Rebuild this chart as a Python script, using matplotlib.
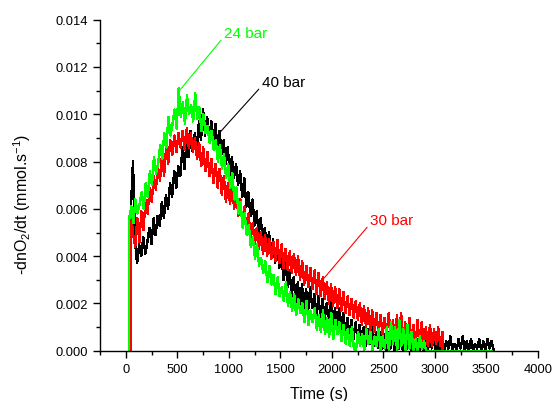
import numpy as np
import matplotlib
matplotlib.use("Agg")
import matplotlib.pyplot as plt

plt.rcParams['font.family'] = ['Liberation Sans', 'DejaVu Sans']
plt.rcParams['mathtext.default'] = 'regular'

# sampling step of the logged traces (s); values below are in 1e-3 mmol/s
STEP = 20

green_start, green_end = 34, 3550   # 24 bar
green_vals = [
    5.6, 6.1, 5.4, 6.4, 5.8, 6.2, 6.7, 6.0, 7.1, 6.5,
    7.6, 7.0, 8.2, 7.5, 7.9, 8.7, 8.1, 9.2, 8.6, 9.9,
    9.1, 9.6, 10.2, 9.4, 11.1, 9.9, 10.5, 9.6, 10.8, 10.0,
    10.4, 9.7, 10.9, 9.8, 10.3, 9.3, 10.0, 9.2, 9.5, 8.8,
    9.3, 8.5, 8.9, 8.0, 8.7, 7.7, 8.3, 7.3, 7.9, 6.9,
    7.5, 6.4, 6.9, 5.8, 6.3, 5.2, 5.8, 4.9, 5.3, 4.4,
    4.8, 3.9, 4.5, 3.6, 3.9, 3.3, 3.8, 2.9, 3.6, 2.8,
    3.2, 2.4, 3.1, 2.3, 2.7, 2.1, 2.9, 1.9, 2.5, 1.7,
    2.4, 1.5, 2.2, 1.6, 2.0, 1.2, 2.1, 1.1, 1.7, 1.2,
    1.8, 0.9, 1.5, 0.8, 1.7, 0.7, 1.4, 0.6, 1.6, 0.5,
    1.3, 0.7, 1.2, 0.4, 1.1, 0.3, 0.9, 0.2, 1.0, 0.1,
    0.0, 0.8, 0.2, 0.7, 0.0, 0.9, 0.3, 0.8, 0.0, 0.6,
    0.2, 0.9, 0.0, 0.6, 0.1, 1.0, 0.0, 1.2, 0.3, 1.0,
    0.0, 1.3, 0.2, 0.9, 0.0, 1.1, 0.1, 0.8, 0.0, 0.5,
    0.0, 0.6, 0.1, 0.4, 0.0,
]

black_start, black_end = 50, 3550   # 40 bar
black_vals = [
    6.0, 8.0, 4.6, 3.7, 4.5, 4.0, 4.8, 4.1, 4.6, 5.2,
    4.5, 5.6, 4.9, 5.7, 5.3, 6.3, 5.6, 6.6, 6.0, 7.1,
    6.5, 7.6, 6.9, 7.8, 7.4, 8.6, 7.7, 8.9, 8.2, 9.3,
    8.4, 9.2, 8.6, 9.7, 8.9, 10.2, 9.1, 9.9, 9.0, 9.7,
    8.9, 9.6, 8.5, 9.3, 8.3, 8.9, 7.9, 8.6, 7.4, 8.2,
    7.3, 7.9, 7.0, 7.6, 6.5, 7.3, 6.1, 6.7, 5.7, 6.4,
    5.3, 5.9, 4.9, 5.6, 4.7, 5.2, 4.3, 5.0, 4.1, 4.7,
    3.7, 4.6, 3.5, 4.3, 3.0, 3.9, 2.7, 3.4, 2.3, 3.1,
    2.0, 2.9, 1.9, 2.8, 1.8, 2.6, 1.7, 2.7, 1.8, 2.4,
    1.5, 2.3, 1.4, 2.2, 1.3, 2.0, 1.2, 2.1, 1.0, 1.8,
    1.0, 1.8, 0.9, 1.6, 0.7, 1.4, 0.6, 1.3, 0.5, 1.2,
    0.4, 1.1, 0.3, 1.0, 0.2, 0.9, 0.3, 1.0, 0.2, 0.8,
    0.1, 0.8, 0.1, 0.7, 0.0, 0.8, 0.1, 0.6, 0.0, 0.7,
    0.1, 0.6, 0.0, 0.7, 0.1, 0.5, 0.0, 0.6, 0.0, 0.5,
    0.0, 0.6, 0.0, 0.4, 0.0, 0.5, 0.1, 0.6, 0.0, 0.4,
    0.0, 0.5, 0.0, 0.4, 0.1, 0.6, 0.0, 0.3, 0.0, 0.5,
    0.1, 0.6, 0.0, 0.4, 0.0, 0.5, 0.0, 0.3, 0.1, 0.5,
    0.0, 0.4, 0.0, 0.5, 0.1, 0.4, 0.0,
]

red_start, red_end = 52, 3070   # 30 bar
red_vals = [
    5.7, 4.9, 4.4, 5.6, 4.6, 5.9, 5.1, 6.4, 5.8, 6.9,
    6.3, 7.4, 6.8, 7.8, 7.2, 8.3, 7.4, 8.6, 7.9, 8.9,
    8.3, 9.1, 8.4, 9.2, 8.6, 9.3, 8.5, 9.4, 8.6, 9.2,
    8.4, 9.0, 8.1, 8.8, 7.8, 8.6, 7.6, 8.4, 7.4, 8.1,
    7.1, 7.9, 6.9, 7.7, 6.6, 7.4, 6.3, 7.1, 6.2, 7.0,
    6.0, 6.8, 5.7, 6.4, 5.3, 6.1, 5.0, 5.8, 4.7, 5.4,
    4.5, 5.2, 4.3, 5.0, 4.1, 4.9, 4.0, 4.7, 3.9, 4.6,
    3.8, 4.7, 3.7, 4.5, 3.5, 4.3, 3.4, 4.2, 3.3, 4.1,
    3.2, 4.0, 3.0, 3.8, 2.8, 3.6, 2.7, 3.5, 2.6, 3.4,
    2.4, 3.3, 2.3, 3.1, 2.2, 2.9, 2.0, 2.8, 1.9, 2.7,
    1.8, 2.6, 1.7, 2.5, 1.6, 2.3, 1.5, 2.2, 1.4, 2.1,
    1.3, 2.0, 1.1, 1.9, 1.0, 1.8, 0.9, 1.7, 0.8, 1.6,
    0.8, 1.5, 0.7, 1.4, 0.7, 1.6, 0.6, 1.3, 0.5, 1.5,
    0.5, 1.6, 0.4, 1.2, 0.3, 1.4, 0.3, 1.1, 0.2, 1.3,
    0.2, 1.2, 0.3, 1.0, 0.2, 1.1, 0.2, 0.9, 0.3, 1.0,
    0.2, 0.8,
]


def trace(start, end, vals):
    """time/value arrays with the vertical onset and the zero tail"""
    t = start + STEP * np.arange(len(vals))
    t = np.r_[start, t, t[-1] + 1, end]
    v = np.r_[0, vals, 0, 0] * 1e-3
    return t, v


fig = plt.figure(figsize=(5.54, 4.02), dpi=100)
ax = fig.add_axes([0.1805, 0.125, 0.7905, 0.8235])

for (s, e, vals), col in [((black_start, black_end, black_vals), 'black'),
                          ((red_start, red_end, red_vals), '#ff0000'),
                          ((green_start, green_end, green_vals), '#00ff00')]:
    t, v = trace(s, e, vals)
    ax.plot(t, v, color=col, lw=1.0, antialiased=False)

ax.set_xlim(-250, 4000)
ax.set_ylim(0, 0.014)
ax.set_xticks(np.arange(0, 4001, 500))
ax.set_xticks(np.arange(-250, 4001, 250), minor=True)
ax.set_yticks(np.arange(0, 0.0141, 0.002))
ax.set_yticks(np.arange(0, 0.0141, 0.001), minor=True)
ax.yaxis.set_major_formatter(matplotlib.ticker.FormatStrFormatter('%.3f'))

ax.spines['top'].set_visible(False)
ax.spines['right'].set_visible(False)
for sp in ['left', 'bottom']:
    ax.spines[sp].set_linewidth(1.0)
ax.tick_params(which='major', direction='out', length=5, width=1, labelsize=9.3)
ax.tick_params(which='minor', direction='out', length=3, width=1)

ax.set_xlabel('Time (s)', fontsize=11.5, labelpad=8)
ax.set_ylabel('-dnO$_2$/dt (mmol.s$^{-1}$)', fontsize=11.5)
ax.yaxis.set_label_coords(-0.153, 0.445)

# labels with leader lines
ax.annotate('24 bar', xy=(502, 0.0109), xytext=(951, 0.01345),
            color='#00ff00', fontsize=11, va='center', ha='left',
            arrowprops=dict(arrowstyle='-', color='#00ff00', lw=0.8,
                            shrinkA=0, shrinkB=0,
                            relpos=(0, 0.2)))
ax.annotate('40 bar', xy=(890, 0.00912), xytext=(1318, 0.01137),
            color='black', fontsize=11, va='center', ha='left',
            arrowprops=dict(arrowstyle='-', color='black', lw=0.8,
                            shrinkA=0, shrinkB=0,
                            relpos=(0, 0.2)))
ax.annotate('30 bar', xy=(1925, 0.00307), xytext=(2369, 0.00554),
            color='#ff0000', fontsize=11, va='center', ha='left',
            arrowprops=dict(arrowstyle='-', color='#ff0000', lw=0.8,
                            shrinkA=0, shrinkB=0,
                            relpos=(0, 0.2)))

fig.savefig('out.png', dpi=100)
